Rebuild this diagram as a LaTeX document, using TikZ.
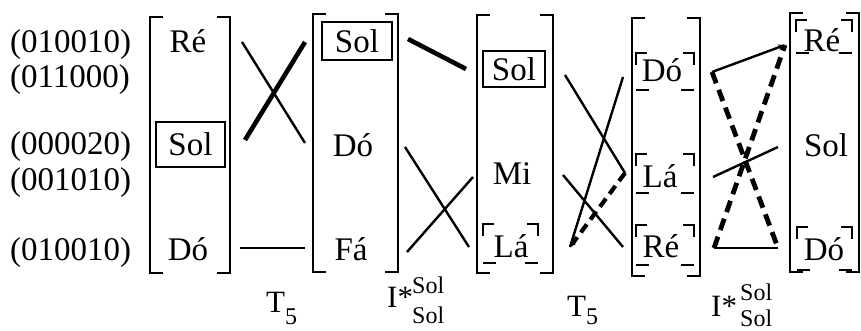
\documentclass[tikz,border=0pt]{standalone}
\usepackage{fontspec}
\setmainfont{Liberation Serif}
\usetikzlibrary{arrows.meta}
\newcommand\colbrk[4]{%
  \draw[brk] (#1+13,#3) -- (#1,#3) -- (#1,#4) -- (#1+13,#4);
  \draw[brk] (#2-13,#3) -- (#2,#3) -- (#2,#4) -- (#2-13,#4);}
\newcommand\cornbox[4]{%
  \draw[cmark] (#1,#3+12) -- (#1,#3) -- (#1+11,#3);
  \draw[cmark] (#2-11,#3) -- (#2,#3) -- (#2,#3+12);
  \draw[cmark] (#1,#4) -- (#1+13,#4);
  \draw[cmark] (#2-13,#4) -- (#2,#4);}
\begin{document}
\begin{tikzpicture}[x=1pt,y=-1pt,
  txt/.style={font=\fontsize{33}{36}\selectfont, inner sep=0pt, anchor=base},
  lbl/.style={font=\fontsize{31}{34}\selectfont, inner sep=0pt, anchor=base west},
  sml/.style={font=\fontsize{24}{26}\selectfont, inner sep=0pt, anchor=base west},
  sbox/.style={font=\fontsize{33}{36}\selectfont, inner sep=0pt, draw, line width=2.2pt},
  brk/.style={line width=2.6pt, line join=miter},
  cmark/.style={line width=2.2pt, line join=miter},
  conn/.style={line width=2.4pt},
  heavy/.style={line width=4.6pt},
  dsh/.style={line width=4.8pt, dash pattern=on 12pt off 7pt},
  tip/.style={-{Stealth[length=7pt,width=6pt]}}]
\useasboundingbox (0,0) rectangle (861,331);

% row labels
\node[txt, anchor=base west] (r1) at (10,53) {(010010)};
\node[txt, anchor=base west] (r2) at (10,88) {(011000)};
\node[txt, anchor=base west] (r3) at (10,155) {(000020)};
\node[txt, anchor=base west] (r4) at (10,190) {(001010)};
\node[txt, anchor=base west] (r5) at (10,260) {(010010)};

% column 1
\colbrk{150}{230}{17}{273}
\node[txt] (c1re) at (188,53) {Ré};
\node[sbox, minimum width=69pt, minimum height=45pt] (c1sol) at (190.5,144.5) {Sol};
\node[txt] (c1do) at (188,260) {Dó};

% column 2
\colbrk{313}{398}{14}{272}
\node[sbox, line width=2.6pt, minimum width=70pt, minimum height=38pt] (c2sol) at (357,41) {Sol};
\node[txt] (c2do) at (353,157) {Dó};
\node[txt] (c2fa) at (351,260) {Fá};

% column 3
\colbrk{477}{553}{15}{273}
\node[sbox, minimum width=62pt, minimum height=36pt] (c3sol) at (514,69) {Sol};
\node[txt] (c3mi) at (512,185) {Mi};
\node[txt] (c3la) at (511,257) {Lá};
\cornbox{483}{538}{224}{263}

% column 4
\colbrk{632}{700}{18}{276}
\node[txt] (c4do) at (662,82) {Dó};
\node[txt] (c4la) at (660,187) {Lá};
\node[txt] (c4re) at (661,257) {Ré};
\cornbox{636}{694}{53}{90}
\cornbox{636}{694}{154}{193}
\cornbox{636}{694}{225}{265}

% column 5
\colbrk{790}{859}{13}{272}
\node[txt] (c5re) at (822,52) {Ré};
\node[txt] (c5sol) at (826,157) {Sol};
\node[txt] (c5do) at (824,260) {Dó};
\cornbox{796}{852}{20}{53}
\cornbox{797}{852}{227}{270}

% connector end points
\coordinate (a1) at (242,42);  \coordinate (a2) at (305,143);
\coordinate (b1) at (245,140); \coordinate (b2) at (305,42);
\coordinate (c1) at (240,248); \coordinate (c2) at (305,248);
\coordinate (d1) at (408,39);  \coordinate (d2) at (466,69);
\coordinate (e1) at (405,147); \coordinate (e2) at (469,247);
\coordinate (f1) at (407,252); \coordinate (f2) at (473,177);
\coordinate (g1) at (565,75);  \coordinate (g2) at (625,173);
\coordinate (h1) at (563,175); \coordinate (h2) at (623,247);
\coordinate (k1) at (570,247); \coordinate (k2) at (623,77);
\coordinate (m1) at (712,72);  \coordinate (m2) at (785,45);
\coordinate (n1) at (714,248); \coordinate (n2) at (778,248);
\coordinate (p1) at (713,177); \coordinate (p2) at (778,147);

% T5
\draw[conn] (a1) -- (a2);
\draw[heavy] (b1) -- (b2);
\draw[conn] (c1) -- (c2);
% I*
\draw[heavy] (d1) -- (d2);
\draw[conn] (e1) -- (e2);
\draw[conn] (f1) -- (f2);
% T5
\draw[conn] (g1) -- (g2);
\draw[conn] (h1) -- (h2);
\draw[conn] (k1) -- (k2);
\draw[dsh, line width=4.2pt, dash pattern=on 10pt off 6pt, -{Stealth[length=6pt,width=6pt]}] (g2) -- (k1);
% I*
\draw[conn, tip] (m1) -- (m2);
\draw[dsh] (m1) -- (n2);
\draw[dsh] (n1) -- (m2);
\draw[conn] (n1) -- (n2);
\draw[conn] (p1) -- (p2);

% bottom labels
\node[lbl] (t1) at (266,312) {T};
\node[sml] (t1s) at (285,324) {5};
\node[lbl] (i1) at (387,307) {I*};
\node[sml] (i1u) at (412,293) {Sol};
\node[sml] (i1d) at (412,323) {Sol};
\node[lbl] (t2) at (567,316) {T};
\node[sml] (t2s) at (586,324) {5};
\node[lbl] (i2) at (711,316) {I*};
\node[sml] (i2u) at (740,300) {Sol};
\node[sml] (i2d) at (740,326) {Sol};
\end{tikzpicture}
\end{document}
